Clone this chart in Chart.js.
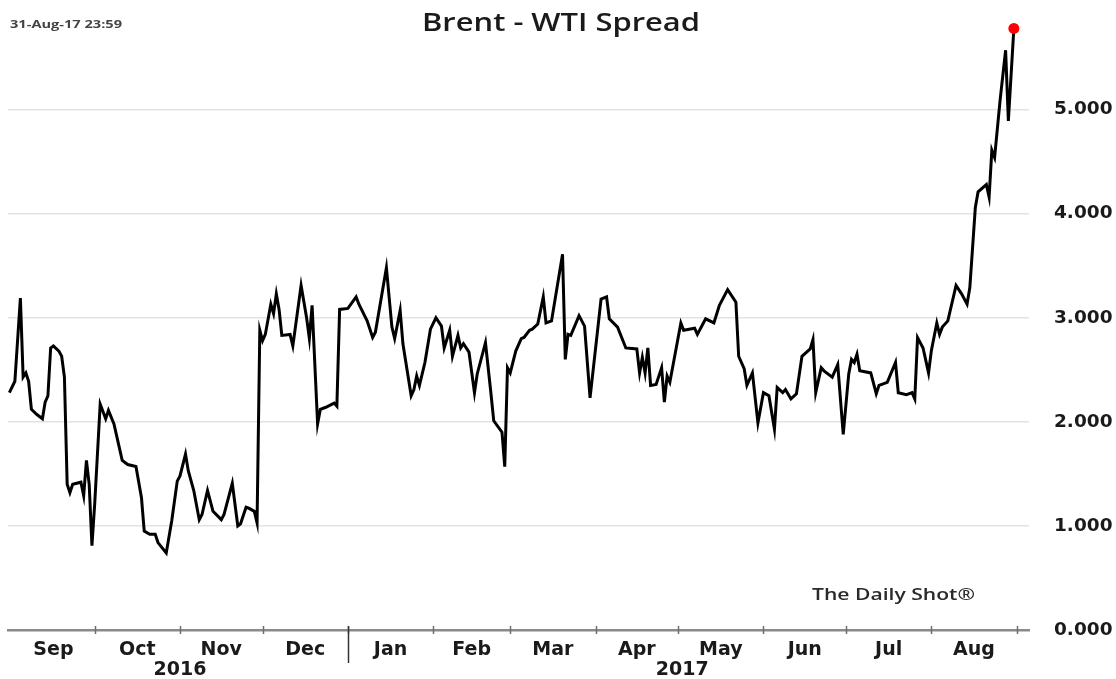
<!DOCTYPE html>
<html>
<head>
<meta charset="utf-8">
<title>Brent - WTI Spread</title>
<script src="https://cdn.jsdelivr.net/npm/chart.js@4.4.0/dist/chart.umd.min.js"></script>
<style>
  html, body { margin: 0; padding: 0; background: #fff; }
  #wrap { width: 1116px; height: 679px; position: relative; }
</style>
</head>
<body>
<div id="wrap"><canvas id="chart"></canvas></div>
<script>
// x = days since 31-Aug-2016
const days = [
  0, 2, 4, 5, 6, 7, 8, 10, 12, 13, 14, 15, 16, 18, 19, 20, 21, 22, 23, 26, 27, 28, 29, 30,
  31, 33, 35, 36, 38, 41, 43, 46, 48, 49, 51, 53, 54, 57, 59, 61,
  62, 64, 65, 67, 69, 70, 72, 74, 77, 78, 81, 83, 84, 86, 87, 89, 90, 91,
  92, 93, 95, 96, 97, 98, 99, 102, 103, 106, 108, 109, 110, 112, 113, 115, 118, 119, 120,
  123, 126, 127, 130, 132, 133, 137, 139, 140, 142, 143, 146, 147, 148, 149, 151, 153,
  155, 157, 158, 160, 161, 163, 164, 165, 167, 169, 170, 173, 175, 176, 179, 180, 181,
  182, 184, 186, 187, 189, 190, 192, 194, 195, 197, 201, 202, 203, 204, 207, 209, 211,
  215, 217, 218, 221, 224, 228, 229, 230, 231, 232, 233, 235, 237, 238, 239, 240,
  244, 245, 249, 250, 253, 256, 258, 261, 264, 265, 267, 268, 270, 272,
  274, 276, 278, 279, 281, 282, 284, 286, 288, 291, 292, 293, 295, 296, 299, 301, 303,
  305, 306, 307, 308, 309, 313, 315, 316, 319, 322, 323, 326, 328, 329, 330, 332, 334,
  335, 337, 338, 339, 341, 344, 346, 348, 349, 351, 352, 355, 356, 357, 358, 360, 362, 363, 365
];
const spread = [
  2.28, 2.39, 3.19, 2.43, 2.47, 2.39, 2.12, 2.07, 2.03, 2.19, 2.25, 2.71, 2.73, 2.68, 2.63, 2.43, 1.40, 1.32, 1.40, 1.42, 1.29, 1.63, 1.40, 0.81,
  1.21, 2.17, 2.03, 2.11, 1.98, 1.63, 1.59, 1.57, 1.27, 0.95, 0.92, 0.92, 0.84, 0.74, 1.05, 1.43,
  1.48, 1.69, 1.53, 1.34, 1.06, 1.11, 1.34, 1.14, 1.06, 1.11, 1.41, 1.00, 1.02, 1.18, 1.17, 1.14, 1.03, 2.88,
  2.78, 2.84, 3.13, 3.04, 3.23, 3.08, 2.83, 2.84, 2.73, 3.31, 3.00, 2.80, 3.12, 1.98, 2.12, 2.14, 2.18, 2.15, 3.08,
  3.09, 3.20, 3.13, 2.97, 2.81, 2.86, 3.48, 2.91, 2.80, 3.07, 2.75, 2.25, 2.31, 2.44, 2.35, 2.57, 2.89,
  3.00, 2.92, 2.71, 2.88, 2.63, 2.83, 2.71, 2.75, 2.67, 2.28, 2.46, 2.76, 2.27, 2.01, 1.90, 1.57, 2.52,
  2.47, 2.68, 2.80, 2.81, 2.88, 2.89, 2.94, 3.20, 2.95, 2.97, 3.61, 2.60, 2.84, 2.83, 3.02, 2.92, 2.23,
  3.18, 3.20, 2.99, 2.91, 2.71, 2.70, 2.47, 2.62, 2.47, 2.71, 2.35, 2.36, 2.52, 2.19, 2.44, 2.38,
  2.95, 2.88, 2.90, 2.84, 2.99, 2.95, 3.12, 3.27, 3.15, 2.63, 2.51, 2.35, 2.47, 1.99,
  2.28, 2.25, 1.93, 2.33, 2.28, 2.31, 2.22, 2.27, 2.63, 2.70, 2.79, 2.28, 2.52, 2.49, 2.43, 2.55, 1.88,
  2.46, 2.60, 2.57, 2.65, 2.49, 2.47, 2.27, 2.35, 2.38, 2.57, 2.28, 2.26, 2.28, 2.22, 2.81, 2.71, 2.47,
  2.68, 2.95, 2.84, 2.91, 2.97, 3.31, 3.23, 3.13, 3.29, 4.06, 4.21, 4.28, 4.16, 4.61, 4.54, 5.09, 5.57, 4.89, 5.78
];

const monthNames = ["Sep", "Oct", "Nov", "Dec", "Jan", "Feb", "Mar", "Apr", "May", "Jun", "Jul", "Aug"];
const monthStarts = [1, 31, 62, 92, 123, 154, 182, 213, 243, 274, 304, 335, 366];
const yearNames = ["2016", "2017"];
const yearStarts = [1, 123, 366];
const yTicks = [0, 1, 2, 3, 4, 5];

const chartTitle = "Brent - WTI Spread";
const stamp = "31-Aug-17 23:59";
const source = "The Daily Shot®";

const FONT = "'DejaVu Sans', sans-serif";
const TEXT_FONT = "'Open Sans', sans-serif";

const points = days.map((d, i) => ({ x: d, y: spread[i] }));
const monthMids = monthNames.map((m, i) => (monthStarts[i] + monthStarts[i + 1]) / 2);
const lastIdx = points.length - 1;

// texte un peu élargi, comme sur l'image d'origine
function wideText(ctx, txt, x, y, width) {
  const w = ctx.measureText(txt).width;
  const sx = width / w;
  ctx.save();
  ctx.translate(x, y);
  ctx.scale(sx, 1);
  ctx.fillText(txt, 0, 0);
  ctx.restore();
}

// texte, séparateur d'année, petits tirets des mois
const extras = {
  id: "extras",
  afterDraw(chart) {
    const ctx = chart.ctx;
    const xs = chart.scales.x;
    const bottom = chart.chartArea.bottom;
    ctx.save();

    ctx.strokeStyle = "#6e6e6e";
    ctx.lineWidth = 1.5;
    monthStarts.slice(1).forEach((d) => {
      const px = Math.round(xs.getPixelForValue(d)) + 0.5;
      ctx.beginPath();
      ctx.moveTo(px, bottom - 4);
      ctx.lineTo(px, bottom + 4);
      ctx.stroke();
    });

    // séparateur entre les années
    const sep = Math.round(xs.getPixelForValue(yearStarts[1])) + 0.5;
    ctx.strokeStyle = "#333";
    ctx.lineWidth = 1.5;
    ctx.beginPath();
    ctx.moveTo(sep, bottom - 4);
    ctx.lineTo(sep, bottom + 33);
    ctx.stroke();

    ctx.fillStyle = "#1a1a1a";
    ctx.font = "bold 19px " + FONT;
    ctx.textAlign = "center";
    ctx.textBaseline = "middle";
    yearNames.forEach((y, i) => {
      const mid = (yearStarts[i] + yearStarts[i + 1]) / 2;
      ctx.fillText(y, xs.getPixelForValue(mid), 670);
    });

    ctx.textAlign = "left";
    ctx.font = "600 25px " + TEXT_FONT;
    ctx.fillStyle = "#1a1a1a";
    wideText(ctx, chartTitle, 422, 24, 278);

    ctx.font = "bold 11px " + TEXT_FONT;
    ctx.fillStyle = "#444";
    wideText(ctx, stamp, 10, 25, 112);

    ctx.font = "600 16px " + TEXT_FONT;
    ctx.fillStyle = "#2a2a2a";
    wideText(ctx, source, 812, 595, 163);

    ctx.restore();
  },
};

const ctx = document.getElementById("chart").getContext("2d");
new Chart(ctx, {
  type: "line",
  data: {
    datasets: [
      {
        data: points,
        borderColor: "#000",
        borderWidth: 3,
        tension: 0,
        pointRadius: (c) => (c.dataIndex === lastIdx ? 5.5 : 0),
        pointBackgroundColor: "#ff0000",
        pointBorderWidth: 0,
      },
    ],
  },
  options: {
    responsive: true,
    maintainAspectRatio: false,
    animation: false,
    layout: { padding: { left: 8, top: 4, right: 0, bottom: 0 } },
    plugins: { legend: { display: false }, tooltip: { enabled: false } },
    scales: {
      x: {
        type: "linear",
        min: -0.5,
        max: 370.5,
        afterBuildTicks: (s) => {
          s.ticks = monthMids.map((v) => ({ value: v }));
        },
        afterFit: (s) => {
          s.height = 49;
          s.paddingLeft = 0;
          s.paddingRight = 0;
        },
        ticks: {
          autoSkip: false,
          maxRotation: 0,
          padding: 9,
          color: "#1a1a1a",
          font: { family: FONT, size: 19, weight: "bold" },
          callback: (v, i) => monthNames[i],
        },
        grid: { display: false, drawTicks: false },
        border: { display: true, color: "#8a8a8a", width: 2.5 },
      },
      y: {
        position: "right",
        min: 0,
        max: 6,
        afterBuildTicks: (s) => {
          s.ticks = yTicks.map((v) => ({ value: v }));
        },
        afterFit: (s) => {
          s.width = 87;
          s.paddingTop = 0;
          s.paddingBottom = 0;
        },
        ticks: {
          padding: 25,
          color: "#1a1a1a",
          font: { family: FONT, size: 18.5, weight: "bold" },
          callback: (v) => v.toFixed(3),
        },
        grid: {
          drawTicks: false,
          color: (c) => (c.tick && c.tick.value === 0 ? "rgba(0,0,0,0)" : "#e3e3e3"),
          lineWidth: 1.5,
        },
        border: { display: false },
      },
    },
  },
  plugins: [extras],
});
</script>
</body>
</html>
